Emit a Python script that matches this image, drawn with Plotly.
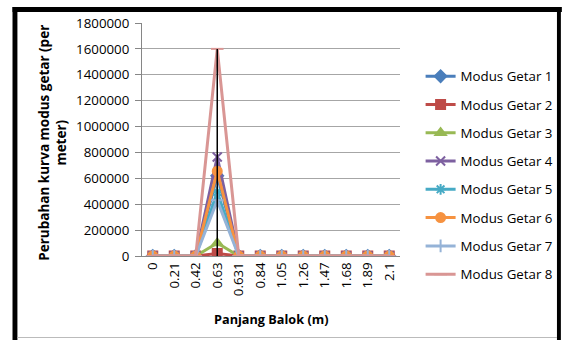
import plotly.graph_objects as go

categories = ["0", "0.21", "0.42", "0.63", "0.631", "0.84", "1.05", "1.26", "1.47", "1.68", "1.89", "2.1"]
series_names = ["Modus Getar 1", "Modus Getar 2", "Modus Getar 3", "Modus Getar 4",
                "Modus Getar 5", "Modus Getar 6", "Modus Getar 7", "Modus Getar 8"]
mode1 = [0, 0, 0, 620000, 0, 0, 0, 0, 0, 0, 0, 0]
mode2 = [0, 0, 0, 20000, 0, 0, 0, 0, 0, 0, 0, 0]
mode3 = [0, 0, 0, 100000, 0, 0, 0, 0, 0, 0, 0, 0]
mode4 = [0, 0, 0, 765000, 0, 0, 0, 0, 0, 0, 0, 0]
mode5 = [0, 0, 0, 495000, 0, 0, 0, 0, 0, 0, 0, 0]
mode6 = [0, 0, 0, 655000, 0, 0, 0, 0, 0, 0, 0, 0]
mode7 = [0, 0, 0, 430000, 0, 0, 0, 0, 0, 0, 0, 0]
mode8 = [0, 0, 0, 1600000, 0, 0, 0, 0, 0, 0, 0, 0]
y_ticks = [0, 200000, 400000, 600000, 800000, 1000000, 1200000, 1400000, 1600000, 1800000]

all_series = [mode1, mode2, mode3, mode4, mode5, mode6, mode7, mode8]
colors = ["#4A7EBB", "#BE4B48", "#98B954", "#7D60A0", "#46AAC5", "#F69240", "#95B3D7", "#D99694"]
symbols = ["diamond", "square", "triangle-up", "x-thin-open", "asterisk-open", "circle", "cross-thin-open", "line-ew-open"]

FONT = "Open Sans"
fig = go.Figure()
for i, (name, vals) in enumerate(zip(series_names, all_series)):
    fig.add_trace(go.Scatter(
        x=categories, y=vals, name=name, mode="lines+markers",
        line=dict(color=colors[i], width=3),
        marker=dict(symbol=symbols[i], size=9, color=colors[i],
                    line=dict(color=colors[i], width=2)),
        legendgroup=name,
    ))

# black drop line at the peak category
peak_idx = mode8.index(max(mode8))
fig.add_trace(go.Scatter(
    x=[categories[peak_idx], categories[peak_idx]], y=[0, max(mode8)],
    mode="lines", line=dict(color="#000000", width=1.5), showlegend=False, hoverinfo="skip"))

W, H = 571, 340
L, T = 142, 23
R = W - 405
B = H - 256
pw, ph = W - L - R, H - T - B

def px(x):
    return (x - L) / pw

def py(y):
    return (H - B - y) / ph

def rect(x0, y0, x1, y1, color):
    return dict(type="rect", xref="paper", yref="paper", layer="above",
                x0=px(x0), x1=px(x1), y0=py(y1), y1=py(y0),
                fillcolor=color, line=dict(width=0))

shapes = [
    rect(10, 7, 15, 340, "black"),      # left border
    rect(10, 7, 570, 12, "black"),      # top border
    rect(565, 7, 569, 340, "black"),    # right border
    rect(15, 337, 565, 338, "#BBBBBB"), # bottom grey line
]

fig.update_layout(
    width=W, height=H, autosize=False,
    margin=dict(l=L, r=R, t=T, b=B),
    paper_bgcolor="white", plot_bgcolor="white",
    font=dict(family=FONT, size=12, color="#000000"),
    showlegend=True,
    legend=dict(x=px(426), y=py(61), xanchor="left", yanchor="top",
                font=dict(family=FONT, size=13.3, color="#000000"),
                tracegroupgap=8, bgcolor="rgba(0,0,0,0)"),
    xaxis=dict(type="category", tickangle=-90, showgrid=False, showline=True,
               linecolor="#868686", linewidth=1, ticks="", tickfont=dict(size=13.3),
               range=[-0.5, len(categories) - 0.5]),
    yaxis=dict(range=[0, 1800000], tickvals=y_ticks, ticktext=[str(v) for v in y_ticks],
               showgrid=True, gridcolor="#A6A6A6", gridwidth=1, showline=True,
               linecolor="#868686", linewidth=1, ticks="outside", ticklen=6,
               tickcolor="#868686", tickfont=dict(size=13.3), zeroline=False,
               ticklabelstandoff=3),
    shapes=shapes,
    annotations=[
        dict(text="<b>Perubahan kurva modus getar (per<br>meter)</b>", textangle=-90,
             xref="paper", yref="paper", x=px(51), y=py(143), showarrow=False,
             xanchor="center", yanchor="middle", font=dict(size=13.5, family=FONT)),
        dict(text="<b>Panjang Balok (m)</b>", xref="paper", yref="paper",
             x=px(274), y=py(319), showarrow=False, xanchor="center", yanchor="middle",
             font=dict(size=12.7, family=FONT)),
    ],
)

fig.write_html("out.html", config={"displayModeBar": False},
               post_script="document.body.style.margin='0';document.body.style.overflow='hidden';")
